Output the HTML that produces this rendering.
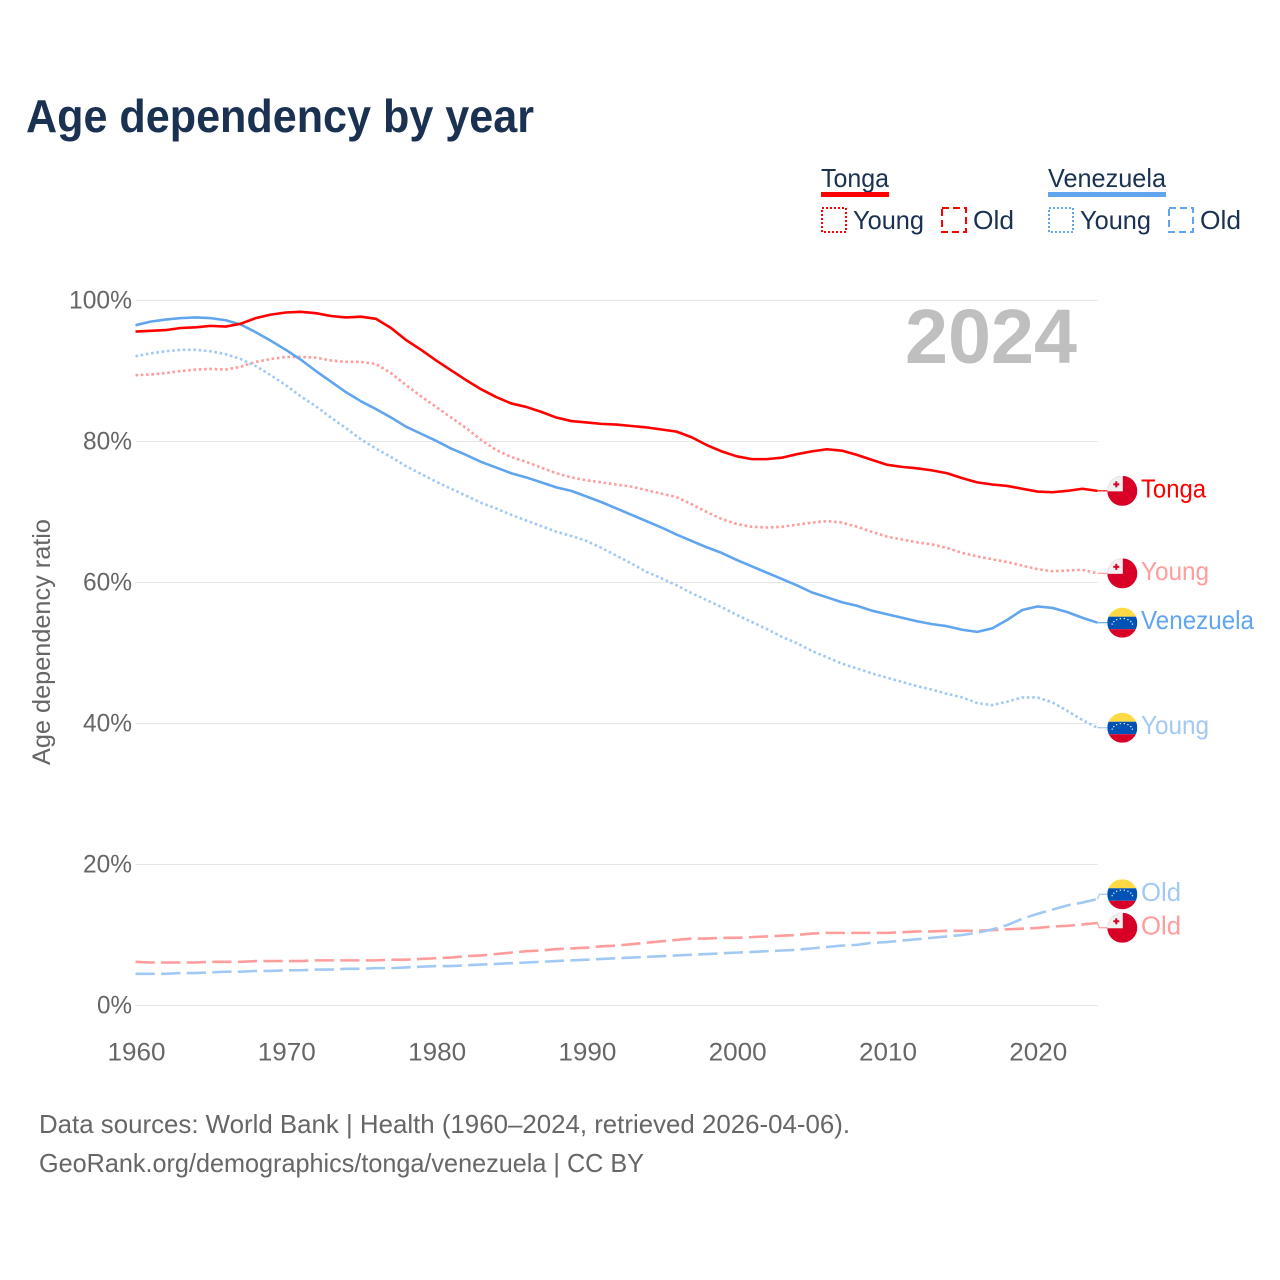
<!DOCTYPE html>
<html lang="en">
<head>
<meta charset="utf-8">
<title>Age dependency by year</title>
<style>
html,body{margin:0;padding:0;background:#fff;}
svg{display:block;font-family:"Liberation Sans",sans-serif;}
</style>
</head>
<body>
<svg id="chart" xmlns="http://www.w3.org/2000/svg" width="1280" height="1280" viewBox="0 0 1280 1280">
  <defs>
    <clipPath id="flag-clip"><circle cx="0" cy="0" r="15"></circle></clipPath>
  </defs>
  <rect x="0" y="0" width="1280" height="1280" fill="#fff"></rect>
  <text x="26" y="132" font-size="46" font-weight="700" fill="#1a3152" textLength="508" lengthAdjust="spacingAndGlyphs">Age dependency by year</text>

  <g font-size="26" fill="#1a3152">
    <text x="821" y="187" textLength="68" lengthAdjust="spacingAndGlyphs">Tonga</text>
    <rect x="821" y="192" width="68" height="5" fill="#ff0000"></rect>
    <rect x="822" y="208" width="24" height="24" fill="none" stroke="#ff0000" stroke-width="2" stroke-dasharray="2 2"></rect>
    <text x="853" y="229" textLength="71" lengthAdjust="spacingAndGlyphs">Young</text>
    <rect x="942" y="208" width="24" height="24" fill="none" stroke="#ff0000" stroke-width="2" stroke-dasharray="7 4"></rect>
    <text x="973" y="229" textLength="41" lengthAdjust="spacingAndGlyphs">Old</text>
    <text x="1048" y="187" textLength="118" lengthAdjust="spacingAndGlyphs">Venezuela</text>
    <rect x="1048" y="192" width="118" height="5" fill="#60a5ee"></rect>
    <rect x="1049" y="208" width="24" height="24" fill="none" stroke="#60a5ee" stroke-width="2" stroke-dasharray="2 2"></rect>
    <text x="1080" y="229" textLength="71" lengthAdjust="spacingAndGlyphs">Young</text>
    <rect x="1169" y="208" width="24" height="24" fill="none" stroke="#60a5ee" stroke-width="2" stroke-dasharray="7 4"></rect>
    <text x="1200" y="229" textLength="41" lengthAdjust="spacingAndGlyphs">Old</text>
  </g>

  <g id="grid"></g>
  <text x="905" y="363" font-size="77" font-weight="700" fill="#bfbfbf" textLength="172" lengthAdjust="spacingAndGlyphs">2024</text>
  <text transform="translate(50,642) rotate(-90)" text-anchor="middle" font-size="25" fill="#666" textLength="246" lengthAdjust="spacingAndGlyphs">Age dependency ratio</text>
  <g id="lines"></g>
  <g id="labels"></g>

  <text x="39" y="1133" font-size="26" fill="#666" textLength="811" lengthAdjust="spacingAndGlyphs">Data sources: World Bank | Health (1960–2024, retrieved 2026-04-06).</text>
  <text x="39" y="1172" font-size="26" fill="#666" textLength="605" lengthAdjust="spacingAndGlyphs">GeoRank.org/demographics/tonga/venezuela | CC BY</text>
</svg>
<script>
const startYear = 1960;
const xTickYears = [1960, 1970, 1980, 1990, 2000, 2010, 2020];
const yTickValues = [0, 20, 40, 60, 80, 100];

const tongaTotal = [
  95.6,95.7,95.8,96.1,96.2,96.4,96.3,96.7,97.5,98.0,
  98.3,98.4,98.2,97.8,97.6,97.7,97.4,96.1,94.4,93.0,
  91.5,90.1,88.7,87.4,86.3,85.4,84.9,84.2,83.4,82.9,
  82.7,82.5,82.4,82.2,82.0,81.7,81.4,80.6,79.5,78.6,
  77.9,77.5,77.5,77.7,78.2,78.6,78.9,78.7,78.1,77.4,
  76.7,76.4,76.2,75.9,75.5,74.8,74.2,73.9,73.7,73.3,
  72.9,72.8,73.0,73.3,73.0
];
const tongaYoung = [
  89.4,89.5,89.7,90.0,90.2,90.3,90.2,90.6,91.3,91.7,
  92.0,92.0,91.9,91.5,91.3,91.3,91.0,89.7,88.0,86.4,
  84.9,83.4,81.9,80.2,78.8,77.8,77.1,76.3,75.5,74.9,
  74.5,74.2,73.9,73.6,73.1,72.6,72.1,71.1,70.0,69.0,
  68.3,67.9,67.8,67.9,68.2,68.5,68.7,68.5,67.9,67.2,
  66.5,66.1,65.7,65.4,64.9,64.2,63.7,63.3,62.9,62.4,
  61.9,61.6,61.7,61.8,61.3
];
const tongaOld = [
  6.2,6.1,6.1,6.1,6.1,6.2,6.2,6.2,6.3,6.3,
  6.3,6.3,6.4,6.4,6.4,6.4,6.4,6.5,6.5,6.6,
  6.7,6.8,7.0,7.1,7.3,7.5,7.7,7.8,8.0,8.1,
  8.2,8.4,8.5,8.7,8.9,9.1,9.3,9.5,9.5,9.6,
  9.6,9.7,9.8,9.9,10.0,10.2,10.3,10.3,10.3,10.3,
  10.3,10.4,10.5,10.5,10.6,10.6,10.6,10.7,10.8,10.9,
  11.0,11.2,11.3,11.5,11.7
];
const venezuelaTotal = [
  96.5,97.0,97.3,97.5,97.6,97.5,97.2,96.6,95.5,94.3,
  93.0,91.6,90.0,88.5,87.0,85.7,84.6,83.4,82.1,81.1,
  80.1,79.0,78.1,77.1,76.3,75.5,74.9,74.2,73.5,73.0,
  72.2,71.4,70.5,69.6,68.7,67.8,66.8,65.9,65.0,64.2,
  63.2,62.3,61.4,60.5,59.6,58.6,57.9,57.2,56.7,56.0,
  55.5,55.0,54.5,54.1,53.8,53.3,53.0,53.5,54.7,56.1,
  56.6,56.4,55.8,55.0,54.3
];
const venezuelaYoung = [
  92.1,92.5,92.8,93.0,93.0,92.8,92.4,91.7,90.7,89.4,
  88.0,86.4,85.0,83.4,81.9,80.3,79.0,77.8,76.5,75.4,
  74.3,73.3,72.3,71.3,70.5,69.6,68.8,68.0,67.2,66.6,
  65.9,64.9,63.8,62.7,61.5,60.6,59.6,58.5,57.5,56.5,
  55.4,54.4,53.4,52.3,51.4,50.3,49.4,48.5,47.8,47.1,
  46.5,45.9,45.3,44.8,44.2,43.7,42.9,42.6,43.1,43.7,
  43.7,43.0,41.8,40.5,39.4
];
const venezuelaOld = [
  4.5,4.5,4.5,4.6,4.6,4.7,4.8,4.8,4.9,4.9,
  5.0,5.0,5.1,5.1,5.2,5.2,5.3,5.3,5.4,5.5,
  5.6,5.6,5.7,5.8,5.9,6.0,6.1,6.2,6.3,6.4,
  6.5,6.6,6.7,6.8,6.9,7.0,7.1,7.2,7.3,7.4,
  7.5,7.6,7.7,7.8,7.9,8.1,8.3,8.5,8.6,8.9,
  9.0,9.2,9.4,9.6,9.8,10.0,10.3,10.8,11.4,12.3,
  13.0,13.6,14.2,14.6,15.1
];

const NS = 'http://www.w3.org/2000/svg';
const xScale = function (year) { return 135.5 + (year - 1960) * 15.03; };
const yScale = function (value) { return 1005.5 - value * 7.05; };

function make(tag, parent) {
  const el = document.createElementNS(NS, tag);
  parent.appendChild(el);
  return el;
}

const gridGroup = document.getElementById('grid');
yTickValues.forEach(function (v) {
  const line = make('line', gridGroup);
  
  
  line.setAttribute('x1', xScale(1960));
  line.setAttribute('x2', xScale(2024));
  line.setAttribute('y1', yScale(v));
  line.setAttribute('y2', yScale(v));
  line.setAttribute('stroke', '#e6e6e6');
  line.setAttribute('stroke-width', '1');
  const label = make('text', gridGroup);
  
  
  label.setAttribute('x', 132);
  label.setAttribute('y', yScale(v) + 8);
  label.setAttribute('text-anchor', 'end');
  label.setAttribute('font-size', '25');
  label.setAttribute('fill', '#666');
  label.setAttribute('textLength', v === 100 ? 63 : (v === 0 ? 35 : 49));
  label.setAttribute('lengthAdjust', 'spacingAndGlyphs');
  label.textContent = v + '%';
});
xTickYears.forEach(function (year) {
  const label = make('text', gridGroup);
  
  
  label.setAttribute('x', xScale(year) + 1);
  label.setAttribute('y', 1060.5);
  label.setAttribute('text-anchor', 'middle');
  label.setAttribute('font-size', '25');
  label.setAttribute('fill', '#666');
  label.setAttribute('textLength', 58);
  label.setAttribute('lengthAdjust', 'spacingAndGlyphs');
  label.textContent = String(year);
});

function linePath(values) {
  return values.map(function (v, i) {
    return (i ? 'L' : 'M') + xScale(startYear + i).toFixed(2) + ' ' + yScale(v).toFixed(2);
  }).join(' ');
}

const RED = '#ff0000';
const BLUE = '#60a5ee';
const PINK = '#ff9c9c';
const SKY = '#a2c9f3';

const series = [
  { key: 'tonga-old', values: tongaOld, color: PINK, dash: '19.3 6.3', label: 'Old', width: 40, flag: 'tonga' },
  { key: 'venezuela-old', values: venezuelaOld, color: SKY, dash: '19.3 6.3', label: 'Old', width: 40, flag: 'venezuela' },
  { key: 'tonga-young', values: tongaYoung, color: PINK, dash: '2.6 2.7', label: 'Young', width: 68, flag: 'tonga' },
  { key: 'venezuela-young', values: venezuelaYoung, color: SKY, dash: '2.6 2.7', label: 'Young', width: 68, flag: 'venezuela' },
  { key: 'venezuela-total', values: venezuelaTotal, color: BLUE, dash: '', label: 'Venezuela', width: 113, flag: 'venezuela' },
  { key: 'tonga-total', values: tongaTotal, color: RED, dash: '', label: 'Tonga', width: 65, flag: 'tonga' }
];

const minGap = 33.5;
const placed = series.map(function (s) {
  return { s: s, end: yScale(s.values[s.values.length - 1]), y: yScale(s.values[s.values.length - 1]) };
}).sort(function (a, b) { return a.y - b.y; });
for (let i = 1; i < placed.length; i++) {
  const gap = placed[i].y - placed[i - 1].y;
  if (gap < minGap) {
    const shift = (minGap - gap) / 2;
    placed[i - 1].y -= shift;
    placed[i].y += shift;
  }
}

const linesGroup = document.getElementById('lines');
series.forEach(function (s) {
  const path = make('path', linesGroup);
  
  
  path.setAttribute('d', linePath(s.values));
  path.setAttribute('fill', 'none');
  path.setAttribute('stroke', s.color);
  path.setAttribute('stroke-width', '2.6');
  path.setAttribute('stroke-linejoin', 'round');
  if (s.dash) path.setAttribute('stroke-dasharray', s.dash);
});

function drawTongaFlag(g) {
  const clip = make('g', g);
  clip.setAttribute('clip-path', 'url(#flag-clip)');
  const base = make('rect', clip);
  base.setAttribute('x', -15); base.setAttribute('y', -15);
  base.setAttribute('width', 30); base.setAttribute('height', 30);
  base.setAttribute('fill', '#d80027');
  const canton = make('rect', clip);
  canton.setAttribute('x', -15); canton.setAttribute('y', -15);
  canton.setAttribute('width', 15.5); canton.setAttribute('height', 15.5);
  canton.setAttribute('fill', '#f0f0f0');
  const h = make('rect', clip);
  h.setAttribute('x', -9); h.setAttribute('y', -7.5);
  h.setAttribute('width', 6); h.setAttribute('height', 2);
  h.setAttribute('fill', '#d80027');
  const v = make('rect', clip);
  v.setAttribute('x', -7); v.setAttribute('y', -9.5);
  v.setAttribute('width', 2); v.setAttribute('height', 6);
  v.setAttribute('fill', '#d80027');
}

function drawVenezuelaFlag(g) {
  const clip = make('g', g);
  clip.setAttribute('clip-path', 'url(#flag-clip)');
  const yellow = make('rect', clip);
  yellow.setAttribute('x', -15); yellow.setAttribute('y', -15);
  yellow.setAttribute('width', 30); yellow.setAttribute('height', 9);
  yellow.setAttribute('fill', '#ffda44');
  const blue = make('rect', clip);
  blue.setAttribute('x', -15); blue.setAttribute('y', -6);
  blue.setAttribute('width', 30); blue.setAttribute('height', 12.5);
  blue.setAttribute('fill', '#0052b4');
  const red = make('rect', clip);
  red.setAttribute('x', -15); red.setAttribute('y', 6.5);
  red.setAttribute('width', 30); red.setAttribute('height', 8.5);
  red.setAttribute('fill', '#d80027');
  for (let k = 0; k < 8; k++) {
    const angle = Math.PI * (0.08 + 0.84 * k / 7);
    const star = make('circle', clip);
    star.setAttribute('cx', -Math.cos(angle) * 10.5);
    star.setAttribute('cy', 3.3 - Math.sin(angle) * 7.5);
    star.setAttribute('r', 0.7);
    star.setAttribute('fill', '#f0f0f0');
  }
}

const labelsGroup = document.getElementById('labels');
placed.forEach(function (p) {
  const s = p.s;
  const xEnd = xScale(2024);
  const connector = make('path', labelsGroup);
  
  
  connector.setAttribute('d', 'M' + xEnd + ' ' + p.end + ' L' + (xEnd + 2) + ' ' + p.y + ' L' + (xEnd + 11) + ' ' + p.y);
  connector.setAttribute('fill', 'none');
  connector.setAttribute('stroke', s.color);
  connector.setAttribute('stroke-width', '1.2');

  const flag = make('g', labelsGroup);
  
  
  flag.setAttribute('transform', 'translate(1122.3,' + p.y + ')');
  if (s.flag === 'tonga') drawTongaFlag(flag); else drawVenezuelaFlag(flag);

  const text = make('text', labelsGroup);
  
  
  text.setAttribute('x', 1141);
  text.setAttribute('y', p.y + 6.5);
  text.setAttribute('font-size', '26');
  text.setAttribute('fill', s.color);
  text.setAttribute('textLength', s.width);
  text.setAttribute('lengthAdjust', 'spacingAndGlyphs');
  text.textContent = s.label;
});
</script>
</body>
</html>
